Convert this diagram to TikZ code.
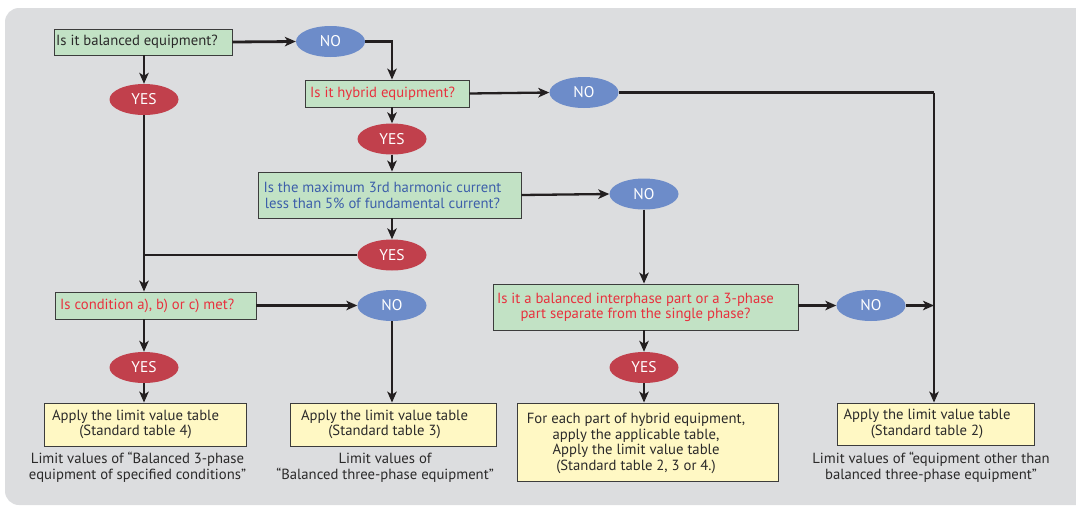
\documentclass[tikz,border=0pt]{standalone}
\usepackage{fontspec}
\setmainfont{PT Sans}
\usetikzlibrary{shapes.geometric,arrows.meta}
\definecolor{bgcol}{HTML}{DCDDDF}
\definecolor{qfill}{HTML}{C2E2C5}
\definecolor{afill}{HTML}{FFF8C4}
\definecolor{yesfill}{HTML}{C1404C}
\definecolor{nofill}{HTML}{6D8CC9}
\definecolor{redtxt}{HTML}{E8313E}
\definecolor{bluetxt}{HTML}{3D5FAA}
\definecolor{darktxt}{HTML}{2B2A2A}
\definecolor{edgecol}{HTML}{3C3C3C}
\definecolor{linecol}{HTML}{231F20}
\tikzset{
  fs/.style={font=\fontsize{14.7}{15.7}\selectfont},
  qbox/.style={draw=edgecol, line width=0.9pt, fill=qfill, inner sep=0pt},
  abox/.style={draw=edgecol, line width=0.9pt, fill=afill, inner sep=0pt},
  yesnode/.style={ellipse, fill=yesfill, text=white, minimum width=69pt, minimum height=31pt, inner sep=0pt, font=\fontsize{15.5}{17}\selectfont},
  nonode/.style={ellipse, fill=nofill, text=white, minimum width=69pt, minimum height=31pt, inner sep=0pt, font=\fontsize{15.5}{17}\selectfont},
  lbl/.style={fs, inner sep=0pt},
  conn/.style={draw=linecol, line width=2.3pt},
  arr/.style={conn, -{Stealth[length=11pt,width=9.5pt,inset=3pt]}},
  thickarr/.style={arr, line width=3.4pt},
}
\begin{document}
\begin{tikzpicture}[x=1pt,y=-1pt]
  \useasboundingbox (0,0) rectangle (1076,506);
  \fill[bgcol, rounded corners=14pt] (5,8) rectangle (1095,505);

  % question boxes
  \node[qbox, minimum width=178pt, minimum height=26pt] (b1) at (143,42) {};
  \node[lbl, anchor=west, text=darktxt] (b1t) at (56,42) {Is it balanced equipment?};
  \node[qbox, minimum width=164pt, minimum height=27pt] (hyb) at (387,93.5) {};
  \node[lbl, anchor=west, text=redtxt] (hybt) at (310,93.5) {Is it hybrid equipment?};
  \node[qbox, minimum width=263pt, minimum height=46pt] (mx) at (389.5,195) {};
  \node[lbl, align=center, text=bluetxt] (mxt) at (382.5,195.5) {Is the maximum 3rd harmonic current\\less than 5\% of fundamental current?};
  \node[qbox, minimum width=201pt, minimum height=27pt] (cond) at (155.5,305.5) {};
  \node[lbl, anchor=west, text=redtxt] (condt) at (60,305.5) {Is condition a), b) or c) met?};
  \node[qbox, minimum width=305pt, minimum height=46pt] (b5) at (645.5,307) {};
  \node[lbl, align=center, text=redtxt] (b5t) at (635.5,307.5) {Is it a balanced interphase part or a 3-phase\\part separate from the single phase?};

  % answers
  \node[nonode] (n1) at (330.5,41.5) {NO};
  \node[yesnode] (y1) at (144,99.5) {YES};
  \node[nonode] (n2) at (584,92.5) {NO};
  \node[yesnode] (y2) at (392,139) {YES};
  \node[nonode] (n3) at (644,194) {NO};
  \node[yesnode] (y3) at (392,255) {YES};
  \node[nonode] (n4) at (392,305.5) {NO};
  \node[nonode] (n5) at (871,305.5) {NO};
  \node[yesnode] (y4) at (144,367.5) {YES};
  \node[yesnode] (y5) at (644,367.5) {YES};

  % result boxes
  \node[abox, minimum width=202pt, minimum height=43pt] (r1) at (145,424.5) {};
  \node[lbl, align=center, text=darktxt] (r1t) at (135.5,424.5) {Apply the limit value table\\(Standard table 4)};
  \node[abox, minimum width=206pt, minimum height=43pt] (r2) at (393,424.5) {};
  \node[lbl, align=center, text=darktxt] (r2t) at (384.5,424.5) {Apply the limit value table\\(Standard table 3)};
  \node[abox, minimum width=261pt, minimum height=78pt] (r3) at (647.5,442) {};
  \node[lbl, align=center, text=darktxt] (r3t) at (636,443.5) {For each part of hybrid equipment,\\apply the applicable table,\\Apply the limit value table\\(Standard table 2, 3 or 4.)};
  \node[abox, minimum width=197pt, minimum height=42pt] (r4) at (935.5,424) {};
  \node[lbl, align=center, text=darktxt] (r4t) at (927,424) {Apply the limit value table\\(Standard table 2)};

  % captions
  \node[lbl, align=center, text=darktxt] (c1) at (137.5,467.5) {Limit values of “Balanced 3-phase\\equipment of specified conditions”};
  \node[lbl, align=center, text=darktxt] (c2) at (385,467.5) {Limit values of\\“Balanced three-phase equipment”};
  \node[lbl, align=center, text=darktxt] (c4) at (931,467.5) {Limit values of “equipment other than\\balanced three-phase equipment”};

  % junction on the right-hand collector line
  \coordinate (j2) at (934,92.5);

  % connectors
  \draw[thickarr, line width=2.8pt] (b1.east) -- (n1.west);
  \draw[arr] (y1 |- b1.south) -- (y1.north);
  \draw[arr] (n1.east) -| (y2 |- hyb.north);
  \draw[arr] (hyb.east) -- (n2.west);
  \draw[arr] (y2 |- hyb.south) -- (y2.north);
  \draw[arr] (y2.south) -- (y2 |- mx.north);
  \draw[arr] (y3 |- mx.south) -- (y3.north);
  \draw[arr] (mx.east) -- (n3.west);
  \draw[conn] (n2.east) -- (j2);
  \draw[arr] (j2) -- (j2 |- r4.north);
  \draw[arr] (y1.south) -- (y1 |- cond.north);
  \draw[conn] (y3.west) -- (y3.west -| y1.south);
  \draw[thickarr] (cond.east) -- (n4.west);
  \draw[arr] (y4 |- cond.south) -- (y4.north);
  \draw[arr] (y4.south) -- (y4 |- r1.north);
  \draw[arr] (n4.south) -- (n4 |- r2.north);
  \draw[arr] (n3.south) -- (n3 |- b5.north);
  \draw[arr] (b5.east |- n5) -- (n5.west);
  \draw[arr] (n5.east) -- (n5.east -| j2);
  \draw[arr] (y5 |- b5.south) -- (y5.north);
  \draw[arr] (y5.south) -- (y5 |- r3.north);
\end{tikzpicture}
\end{document}
